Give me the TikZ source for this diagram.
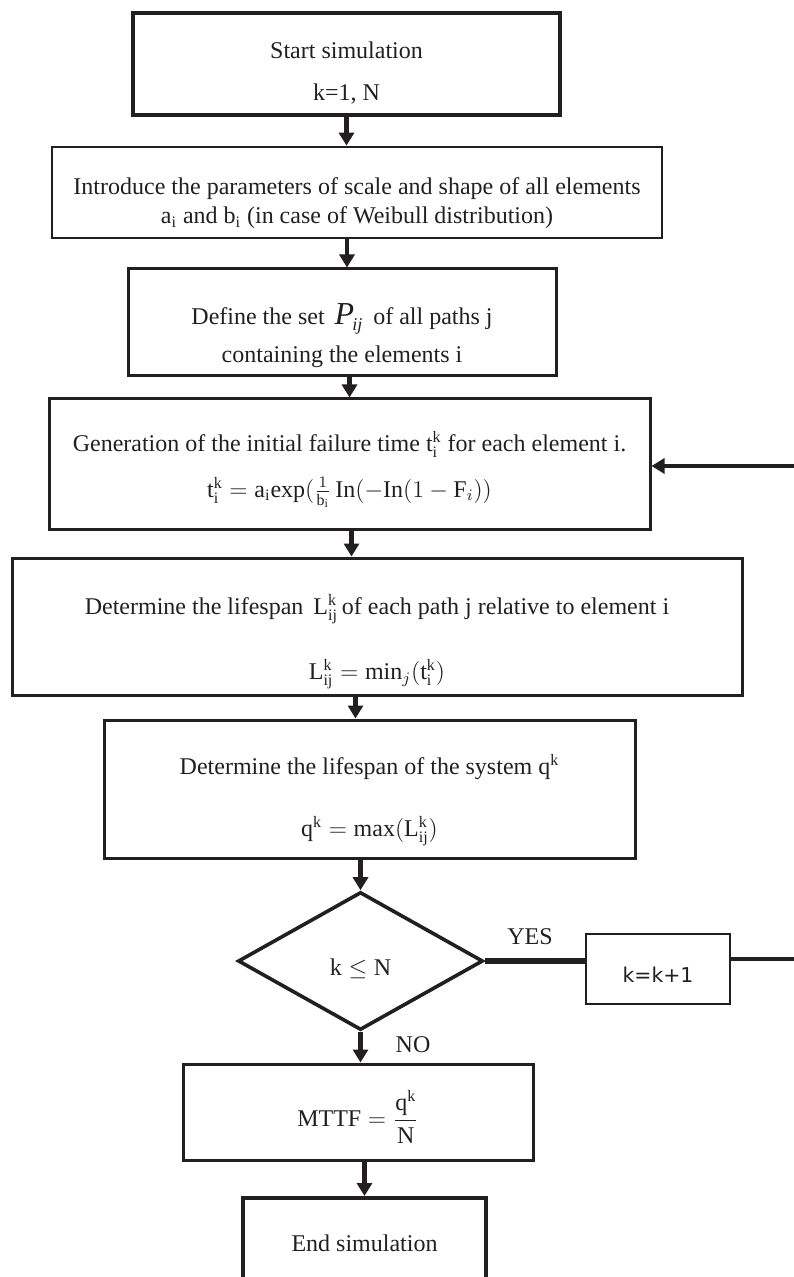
\documentclass[tikz,border=0pt]{standalone}
\usepackage{amsmath}
\usepackage{fontspec}
\setmainfont{Liberation Serif}
\newfontfamily\stepfont{DejaVu Sans}
\usepackage{tikz}
\usetikzlibrary{arrows.meta, positioning, calc, shapes.geometric}
\definecolor{ink}{RGB}{35, 31, 32}

\newcommand{\up}[1]{\rule{0pt}{#1}}

\tikzset{
  box/.style={draw=ink, line width=1.5pt, rectangle, align=center, inner sep=0pt},
  flow/.style={-{Triangle[width=7.5pt, length=6.5pt]}, line width=2.2pt, draw=ink},
  back/.style={line width=2.6pt, draw=ink},
}

\begin{document}
\begin{tikzpicture}[x=0.5pt, y=-0.5pt, font=\fontsize{12}{14}\selectfont, text=ink]
  \useasboundingbox (0,0) rectangle (793,1277);

  % Steps
  \node[box, line width=1.7pt, minimum width=213.5pt, minimum height=51pt] (start)
    at (346.5,64) {\up{17pt}Start simulation\\[7pt]k=1, N};
  \node[box, line width=1.4pt, minimum width=305pt, minimum height=45.5pt] (params)
    at (357,192.5) {\up{19pt}Introduce the parameters of scale and shape of all elements\\[0.5pt]
      a\textsubscript{i} and b\textsubscript{i} (in case of Weibull distribution)};
  \node[box, minimum width=214pt, minimum height=53.5pt] (pathset)
    at (342,322.5) {\up{24pt}Define the set \,{\fontsize{16}{14}\selectfont\itshape P\kern-1pt\textsubscript{\fontsize{9}{9}\selectfont ij}}\, of all paths j\\[5pt]
      containing the elements i};
  \node[box, minimum width=300.5pt, minimum height=65pt] (gen)
    at (349.5,464) {\up{15.5pt}Generation of the initial failure time $\mathrm{t_i^k}$ for each element i.\\[9pt]
      $\mathrm{t_i^k} = \mathrm{a_i exp}(\frac{1}{\mathrm{b_i}}\,\mathrm{In}(-\mathrm{In}(1-\mathrm{F}_{i}))$};
  \node[box, minimum width=365pt, minimum height=68.5pt] (pathlife)
    at (377,626.5) {\up{25pt}Determine the lifespan \,{\large$\mathrm{L^k_{ij}}$}\,of each path j relative to element i\\[17pt]
      $\mathrm{L^k_{ij}} = \mathrm{min}_{j}(\mathrm{t^k_i})$};
  \node[box, minimum width=265.5pt, minimum height=69pt] (syslife)
    at (369.5,789) {\up{21pt}Determine the lifespan of the system {\large$\mathrm{q^k}$}\\[17pt]
      $\mathrm{q^k} = \mathrm{max}(\mathrm{L^k_{ij}})$};
  \node[box, diamond, line width=1.8pt, minimum width=122.5pt, minimum height=69pt] (check)
    at (360.5,961) {\up{16pt}$\mathrm{k} \leq \mathrm{N}$};
  \node[box, line width=1pt, minimum width=72pt, minimum height=35pt] (incr)
    at (658,969) {\up{13pt}\stepfont\fontsize{10.2}{12}\selectfont k=k+1};
  \node[box, minimum width=175pt, minimum height=48pt] (mttf)
    at (358,1112) {\up{23pt}$\mathrm{MTTF} = \dfrac{\mathrm{q^k}}{\mathrm{N}}$};
  \node[box, line width=2pt, minimum width=121.5pt, minimum height=45pt] (stop)
    at (364.5,1243) {End simulation};

  % Labels
  \node (yes) at (530,937) {YES};
  \node (no) at (413,1045) {NO};

  % Connectors
  \draw[flow] (start.south) -- (start.south |- params.north);
  \draw[flow] ([xshift=-5pt]params.south) -- ([xshift=-5pt]params.south |- pathset.north);
  \draw[flow] (gen.north |- pathset.south) -- (gen.north);
  \draw[flow] ([xshift=1pt]gen.south) -- ([xshift=1pt]gen.south |- pathlife.north);
  \draw[flow] ([xshift=-7pt]syslife.north |- pathlife.south) -- ([xshift=-7pt]syslife.north);
  \draw[flow] (check.north |- syslife.south) -- (check.north);
  \draw[flow] (check.south) -- (check.south |- mttf.north);
  \draw[flow] (stop.north |- mttf.south) -- (stop.north);

  % Loop back
  \coordinate (corner) at (801,466);
  \draw[back] (check.east) -- (check.east -| incr.west);
  \draw[flow, line width=2.4pt] ([yshift=5pt]incr.east) -| (corner) -- (corner -| gen.east);
\end{tikzpicture}
\end{document}
